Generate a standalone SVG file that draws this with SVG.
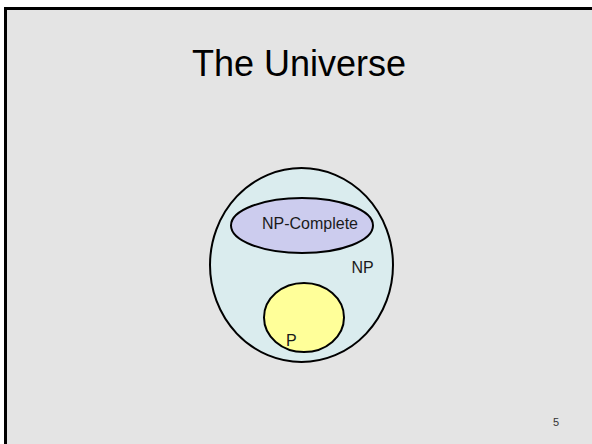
<svg xmlns="http://www.w3.org/2000/svg" width="592" height="444" viewBox="0 0 592 444">
<style>
.lbl{font-family:"Liberation Sans",Arial,sans-serif;font-size:16px;fill:#1a1a1a}
.set{stroke:#000;stroke-width:2}
</style>
<rect x="0" y="0" width="592" height="444" fill="#ffffff"/>
<rect x="5.5" y="8.5" width="600" height="450" fill="#e4e4e4" stroke="#000" stroke-width="3"/>
<text x="299" y="76" text-anchor="middle" font-family="Liberation Sans, Arial, sans-serif" font-size="36" fill="#000">The Universe</text>
<g id="np">
<ellipse class="set" cx="301.5" cy="265" rx="91.5" ry="97" fill="#daecee"/>
<text class="lbl" x="362.5" y="273" text-anchor="middle">NP</text>
</g>
<g id="np-complete">
<ellipse class="set" cx="302" cy="225.5" rx="71" ry="27.5" fill="#ccccee"/>
<text class="lbl" x="310" y="229" text-anchor="middle">NP-Complete</text>
</g>
<g id="p">
<ellipse class="set" cx="304" cy="317.5" rx="40" ry="34.5" fill="#ffff99"/>
<text class="lbl" x="286" y="346">P</text>
</g>
<g id="connectors"/>
<text x="556" y="426" text-anchor="middle" font-family="Liberation Sans, Arial, sans-serif" font-size="11" fill="#333">5</text>
</svg>
